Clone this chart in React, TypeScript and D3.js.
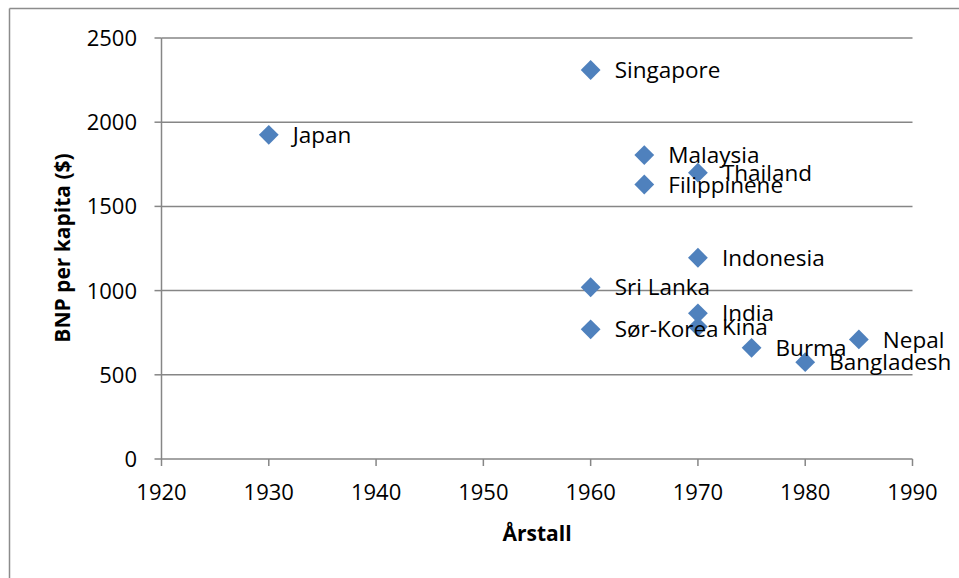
import React from "react";
import * as d3 from "d3";

const countries = ["Japan", "Singapore", "Malaysia", "Thailand", "Filippinene", "Indonesia", "Sri Lanka", "India", "Kina", "Sør-Korea", "Burma", "Bangladesh", "Nepal"];
const years = [1930, 1960, 1965, 1970, 1965, 1970, 1960, 1970, 1970, 1960, 1975, 1980, 1985];
const gnp = [1925, 2310, 1805, 1700, 1630, 1195, 1020, 865, 785, 770, 660, 575, 710];
const xTicks = [1920, 1930, 1940, 1950, 1960, 1970, 1980, 1990];
const yTicks = [0, 500, 1000, 1500, 2000, 2500];

const W = 959, H = 578;
const FONT = "'Open Sans', Lato, sans-serif";

export default function App() {
  const x = d3.scaleLinear().domain([1920, 1990]).range([161.5, 912.5]);
  const y = d3.scaleLinear().domain([0, 2500]).range([459, 38]);
  const grid = "#868686";
  const diamond = d3.symbol().type(d3.symbolSquare).size(196)();
  return (
    <svg width={W} height={H} style={{ position: "absolute", left: 0, top: 0, background: "#fff" }} fontFamily={FONT}>
      <rect x={0} y={0} width={W} height={H} fill="#fff" />
      <line x1={9.5} y1={8.5} x2={W} y2={8.5} stroke="#8c8c8c" strokeWidth={1.5} />
      <line x1={9.5} y1={8.5} x2={9.5} y2={H} stroke="#8c8c8c" strokeWidth={1.5} />
      {yTicks.map((t) => (
        <g key={"y" + t}>
          {t > 0 && <line x1={x(1920)} x2={x(1990)} y1={y(t)} y2={y(t)} stroke={grid} strokeWidth={1.5} />}
          <line x1={x(1920) - 7} x2={x(1920)} y1={y(t)} y2={y(t)} stroke={grid} strokeWidth={1.5} />
          <text x={137} y={y(t)} dy="0.36em" textAnchor="end" fontSize={22} fill="#000">{t}</text>
        </g>
      ))}
      <line x1={x(1920)} x2={x(1920)} y1={y(2500)} y2={y(0)} stroke={grid} strokeWidth={1.5} />
      <line x1={x(1920)} x2={x(1990)} y1={y(0)} y2={y(0)} stroke={grid} strokeWidth={1.5} />
      {xTicks.map((t) => (
        <g key={"x" + t}>
          <line x1={x(t)} x2={x(t)} y1={y(0)} y2={y(0) + 7} stroke={grid} strokeWidth={1.5} />
          <text x={x(t)} y={500} textAnchor="middle" fontSize={22} fill="#000">{t}</text>
        </g>
      ))}
      <text x={537} y={541} textAnchor="middle" fontSize={21} fontWeight="bold" fill="#000">Årstall</text>
      <text transform={`translate(70,248) rotate(-90)`} textAnchor="middle" fontSize={21} fontWeight="bold" fill="#000">BNP per kapita ($)</text>
      {countries.map((c, i) => (
        <g key={c}>
          <path d={diamond} transform={`translate(${x(years[i])},${y(gnp[i])}) rotate(45)`} fill="#4F81BD" />
        </g>
      ))}
      {countries.map((c, i) => (
        <text key={"l" + c} x={x(years[i]) + 24} y={y(gnp[i])} dy="0.36em" fontSize={22.5} fill="#000">{c}</text>
      ))}
    </svg>
  );
}
